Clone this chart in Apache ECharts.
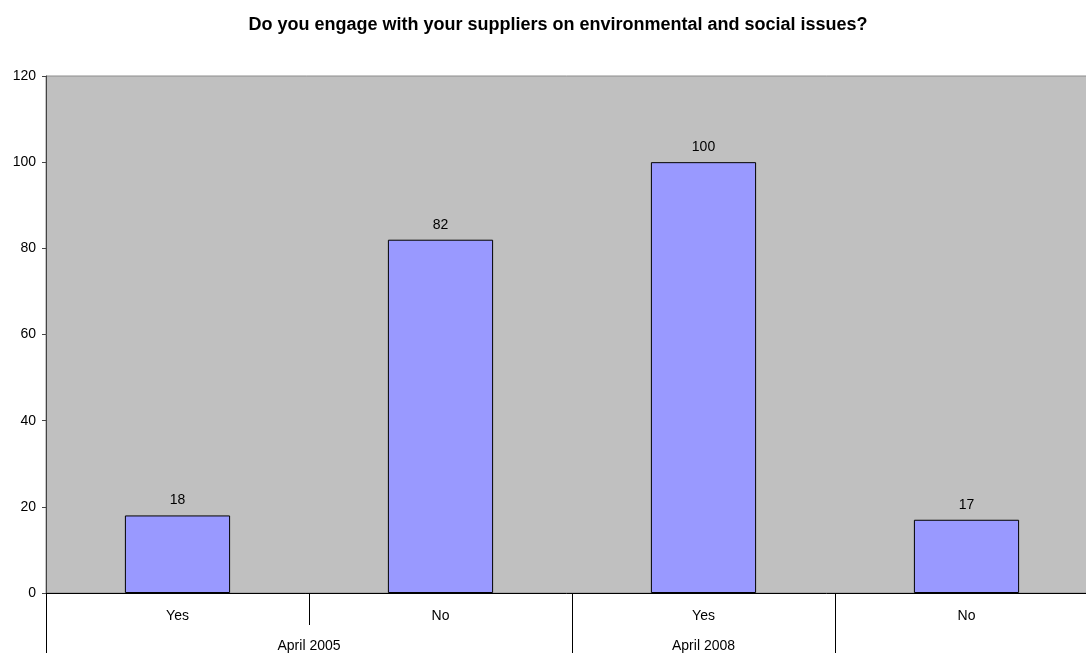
<!DOCTYPE html>
<html>
<head>
<meta charset="utf-8">
<script src="https://cdn.jsdelivr.net/npm/echarts@6/dist/echarts.min.js"></script>
<style>
  html, body { margin: 0; padding: 0; background: #fff; }
  #chart { width: 1086px; height: 653px; }
</style>
</head>
<body>
<div id="chart"></div>
<script>
// Answers per survey round
const categories = ['Yes', 'No', 'Yes', 'No'];
const values = [18, 82, 100, 17];
// Outer category level: group name and how many answers it spans
const groups = ['April 2005', 'April 2008', ''];
const groupSpans = [2, 1, 1];
const yTicks = { min: 0, max: 120, step: 20 };

// Outer axis uses half-category steps so a group name sits at its span's middle
const halfSteps = categories.length * 2 + 1;
const groupLabels = new Array(halfSteps).fill('');
const groupEdges = new Set([0]);
let pos = 0;
groups.forEach((g, i) => {
  groupLabels[pos + groupSpans[i]] = g;
  pos += groupSpans[i] * 2;
  groupEdges.add(pos);
});

const font = 'Liberation Sans, Arial, sans-serif';
const chart = echarts.init(document.getElementById('chart'));
chart.setOption({
  animation: false,
  title: {
    text: 'Do you engage with your suppliers on environmental and social issues?',
    left: 553,
    top: 11,
    textAlign: 'center',
    textStyle: { fontFamily: font, fontSize: 18, fontWeight: 'bold', color: '#000' }
  },
  grid: {
    left: 46, top: 76, width: 1052, bottom: 60,
    outerBoundsMode: 'none',
    containLabel: false,
    show: true, backgroundColor: '#C0C0C0', borderColor: '#8c8c8c', borderWidth: 1
  },
  xAxis: [
    {
      type: 'category',
      data: categories,
      position: 'bottom',
      axisLine: { lineStyle: { color: '#000', width: 1 } },
      axisTick: { show: true, length: 32, lineStyle: { color: '#000' } },
      axisLabel: { margin: 16, fontFamily: font, fontSize: 14, color: '#000' }
    },
    {
      type: 'category',
      data: groupLabels,
      position: 'bottom',
      offset: 32,
      boundaryGap: false,
      axisLine: { show: false },
      axisTick: {
        show: true, length: 30,
        interval: (idx) => groupEdges.has(idx),
        lineStyle: { color: '#000' }
      },
      axisLabel: { interval: 0, margin: 14, fontFamily: font, fontSize: 14, color: '#000' }
    }
  ],
  yAxis: {
    type: 'value',
    min: yTicks.min, max: yTicks.max, interval: yTicks.step,
    axisLine: { show: true, lineStyle: { color: '#444', width: 1 } },
    axisTick: { show: true, length: 4, lineStyle: { color: '#444' } },
    splitLine: { show: false },
    axisLabel: { margin: 10, fontFamily: font, fontSize: 14, color: '#000' }
  },
  series: [{
    type: 'bar',
    xAxisIndex: 0,
    data: values,
    barWidth: '40%',
    itemStyle: { color: '#9999FF', borderColor: '#000', borderWidth: 1 },
    label: {
      show: true, position: 'top', distance: 8,
      fontFamily: font, fontSize: 14, color: '#000'
    }
  }]
});
</script>
</body>
</html>
